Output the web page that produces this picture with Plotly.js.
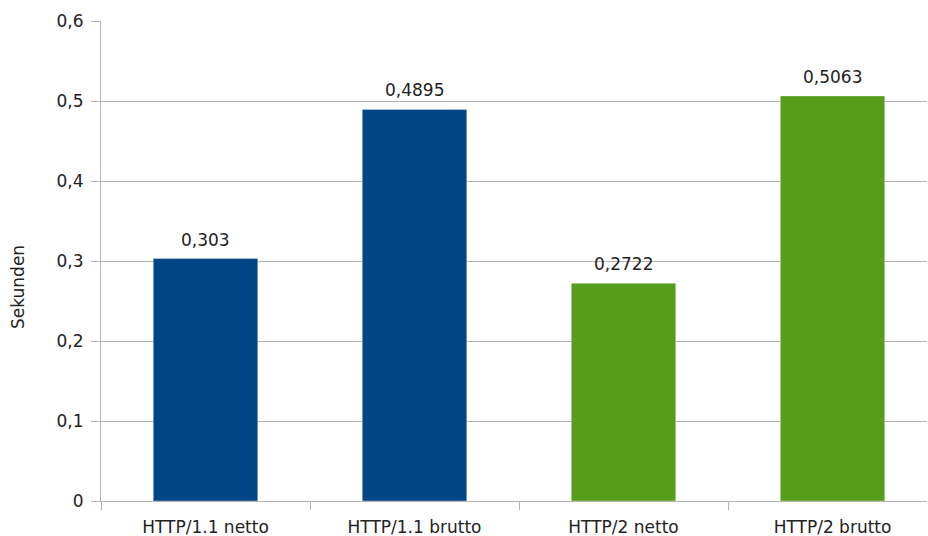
<!DOCTYPE html>
<html>
<head>
<meta charset="utf-8">
<script src="https://cdn.plot.ly/plotly-3.0.1.min.js"></script>
<style>html,body{margin:0;padding:0;background:#fff;}#chart{width:928px;height:536px;}</style>
</head>
<body>
<div id="chart"></div>
<script>
var categories = ["HTTP/1.1 netto", "HTTP/1.1 brutto", "HTTP/2 netto", "HTTP/2 brutto"];
var values = [0.303, 0.4895, 0.2722, 0.5063];
var barColors = ["#004586", "#004586", "#579d1c", "#579d1c"];
var yTitle = "Sekunden";

var labels = values.map(function (v) { return String(v).replace('.', ','); });
var fontFamily = '"DejaVu Sans", "Liberation Sans", sans-serif';
var fs = 17;
var txtColor = '#222';

var trace = {
  type: 'bar',
  x: categories,
  y: values,
  width: 0.5,
  marker: { color: barColors, line: { color: 'rgba(255,255,255,0.35)', width: 1 } },
  cliponaxis: false,
  hoverinfo: 'none'
};

var annotations = categories.map(function (c, i) {
  return {
    x: c, y: values[i], xref: 'x', yref: 'y',
    text: labels[i], showarrow: false,
    xanchor: 'center', yanchor: 'bottom', yshift: 7,
    font: { family: fontFamily, size: fs, color: txtColor }
  };
});
annotations.push({
  xref: 'paper', yref: 'paper',
  x: (18 - 101) / 826, y: (501 - 287) / 480,
  xanchor: 'center', yanchor: 'middle',
  text: yTitle, textangle: -90, showarrow: false,
  font: { family: fontFamily, size: fs, color: txtColor }
});

var layout = {
  width: 928,
  height: 536,
  margin: { l: 101, r: 1, t: 21, b: 35 },
  paper_bgcolor: '#fff',
  plot_bgcolor: '#fff',
  separators: ',.',
  showlegend: false,
  font: { family: fontFamily, size: fs, color: txtColor },
  annotations: annotations,
  xaxis: {
    type: 'category',
    tickson: 'boundaries',
    ticks: 'outside',
    ticklen: 8,
    tickcolor: '#b3b3b3',
    showline: true,
    linecolor: '#b3b3b3',
    showgrid: false,
    automargin: false,
    ticklabelstandoff: 11,
    tickfont: { family: fontFamily, size: fs, color: txtColor },
    range: [-0.5, 3.452]
  },
  yaxis: {
    range: [0, 0.6],
    dtick: 0.1,
    tick0: 0,
    ticks: 'outside',
    ticklen: 9,
    tickcolor: '#b3b3b3',
    showline: true,
    linecolor: '#b3b3b3',
    gridcolor: '#b3b3b3',
    zeroline: false,
    automargin: false,
    ticklabelstandoff: 4,
    tickfont: { family: fontFamily, size: fs, color: txtColor }
  }
};

Plotly.newPlot('chart', [trace], layout, { staticPlot: true, displayModeBar: false });
</script>
</body>
</html>
